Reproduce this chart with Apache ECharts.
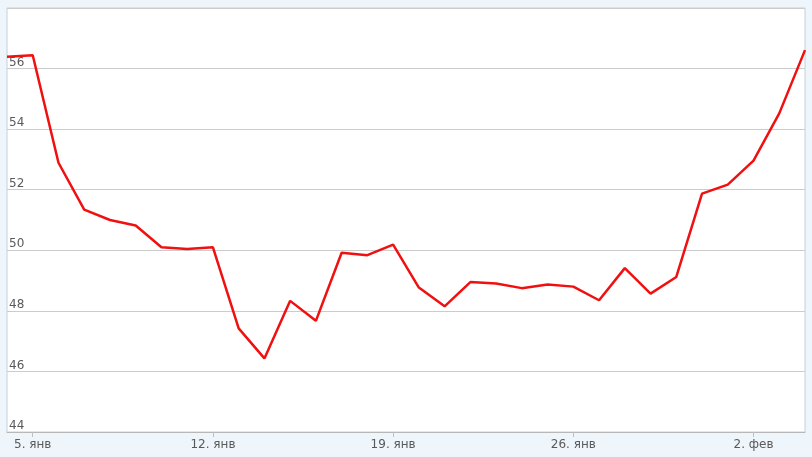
<!DOCTYPE html>
<html><head><meta charset="utf-8">
<script src="https://cdn.jsdelivr.net/npm/echarts@6/dist/echarts.min.js"></script>
<style>html,body{margin:0;padding:0;background:#eef5fb;}#c{width:812px;height:457px;}</style>
</head><body><div id="c"></div>
<script>
const categories = ['4. янв','5. янв','6. янв','7. янв','8. янв','9. янв','10. янв','11. янв','12. янв','13. янв','14. янв','15. янв','16. янв','17. янв','18. янв','19. янв','20. янв','21. янв','22. янв','23. янв','24. янв','25. янв','26. янв','27. янв','28. янв','29. янв','30. янв','31. янв','1. фев','2. фев','3. фев','4. фев'];
const values = [56.39,56.44,52.89,51.34,51.0,50.82,50.1,50.04,50.1,47.42,46.43,48.33,47.67,49.92,49.84,50.19,48.77,48.15,48.95,48.9,48.75,48.87,48.8,48.35,49.41,48.57,49.12,51.87,52.17,52.96,54.52,56.61];
const yMin = 44, yMax = 58, yStep = 2;
const labelIdx = [1,8,15,22,29];

const chart = echarts.init(document.getElementById('c'));
chart.setOption({
  backgroundColor: '#eef5fb',
  animation: false,
  grid: {left: 7, right: 7, top: 8, bottom: 25, show: true, backgroundColor: '#ffffff', borderColor: '#c3d0dc', borderWidth: 1},
  xAxis: {
    type: 'category', data: categories, boundaryGap: false,
    axisLine: {show: true, lineStyle: {color: '#b8b8b8'}},
    axisTick: {show: true, length: 5, interval: (i) => labelIdx.includes(i), lineStyle: {color: '#c0c0c0'}},
    axisLabel: {interval: (i) => labelIdx.includes(i), color: '#5a5a5a', fontSize: 12, fontFamily: 'DejaVu Sans', margin: 7},
    splitLine: {show: false}
  },
  yAxis: {
    type: 'value', min: yMin, max: yMax, interval: yStep,
    axisLine: {show: false}, axisTick: {show: false},
    axisLabel: {inside: true, margin: 2, color: '#5a5a5a', fontSize: 12, fontFamily: 'DejaVu Sans', verticalAlign: 'bottom', showMaxLabel: false},
    splitLine: {lineStyle: {color: '#cccccc', width: 1}}
  },
  series: [{type: 'line', data: values, symbol: 'none', lineStyle: {color: '#f01010', width: 2.5}}]
});
</script></body></html>
